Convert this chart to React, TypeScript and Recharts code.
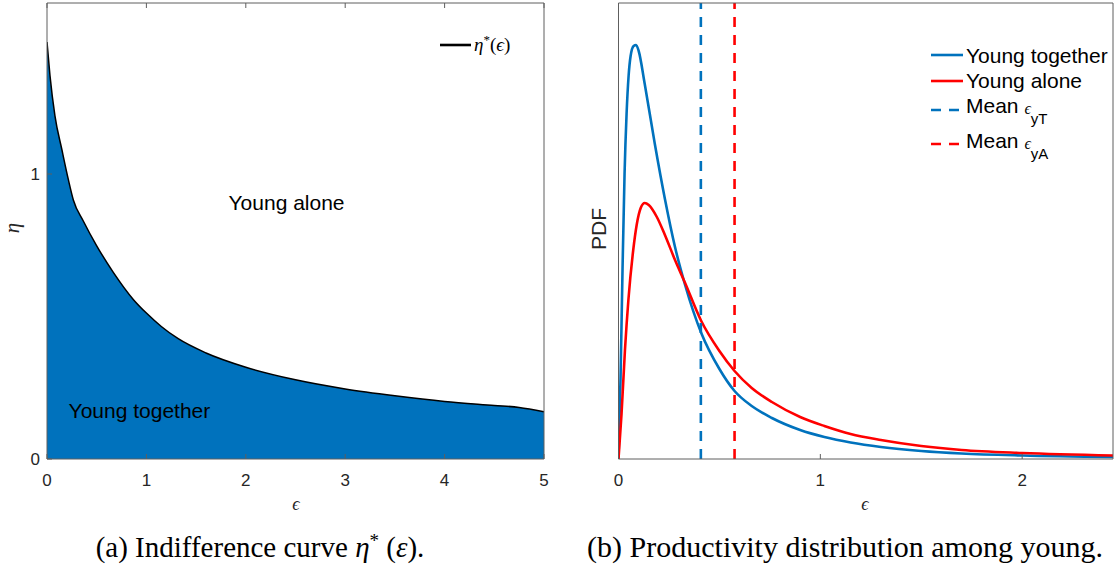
import React from 'react';
import {
  ComposedChart,
  Area,
  Line,
  XAxis,
  YAxis,
  ReferenceLine,
  ReferenceDot,
} from 'recharts';

// (a) indifference curve eta*(eps)
const curveEps = [0, 0.03, 0.08, 0.15, 0.215, 0.265, 0.365, 0.5, 0.667, 0.868, 1.0, 1.15, 1.32, 1.6, 2.0, 2.5, 3.0, 3.5, 4.0, 4.5, 4.75, 5.0];
const curveEta = [1.463, 1.345, 1.204, 1.085, 0.98, 0.909, 0.835, 0.748, 0.655, 0.56, 0.512, 0.465, 0.422, 0.372, 0.322, 0.278, 0.246, 0.222, 0.202, 0.188, 0.181, 0.166];
const epsTicksA = [0, 1, 2, 3, 4, 5];
const etaTicks = [0, 1];

// (b) productivity pdf among young
const blueEps = [0, 0.01, 0.02, 0.03, 0.04, 0.05, 0.06, 0.075, 0.087, 0.1, 0.13, 0.18, 0.23, 0.28, 0.33, 0.41, 0.5, 0.575, 0.66, 0.76, 0.9, 1.02, 1.15, 1.3, 1.5, 1.7, 2.0, 2.45];
const bluePdf = [0, 0.8, 1.9, 2.85, 3.45, 3.83, 4.03, 4.13, 4.14, 4.08, 3.75, 3.15, 2.6, 2.12, 1.74, 1.26, 0.9, 0.68, 0.53, 0.41, 0.29, 0.22, 0.165, 0.12, 0.08, 0.055, 0.035, 0.02];
const redEps = [0, 0.015, 0.032, 0.049, 0.073, 0.09, 0.11, 0.13, 0.15, 0.19, 0.23, 0.28, 0.33, 0.41, 0.5, 0.575, 0.66, 0.76, 0.9, 1.02, 1.15, 1.3, 1.5, 1.7, 2.0, 2.45];
const redPdf = [0, 0.45, 1.09, 1.59, 2.09, 2.34, 2.51, 2.56, 2.54, 2.42, 2.24, 1.99, 1.76, 1.38, 1.08, 0.88, 0.71, 0.57, 0.42, 0.33, 0.25, 0.19, 0.13, 0.09, 0.06, 0.035];
const meanYT = 0.408;
const meanYA = 0.575;
const epsTicksB = [0, 1, 2];

const indiffData = curveEps.map((e, i) => ({ eps: e, eta: curveEta[i] }));
const blueData = blueEps.map((e, i) => ({ eps: e, pdf: bluePdf[i] }));
const redData = redEps.map((e, i) => ({ eps: e, pdf: redPdf[i] }));

const BLUE = '#0072BD';
const RED = '#FF0000';
const INK = '#262626';
const AXIS = '#5e5e5e';
const SANS = '"Liberation Sans", Arial, Helvetica, sans-serif';
const SERIF = '"Liberation Serif", "Times New Roman", serif';

const BottomTick = (props: any) => {
  const { x, y, payload } = props;
  return (
    <g>
      <line x1={x} y1={y} x2={x} y2={y - 5} stroke={AXIS} />
      <text x={x} y={y + 27} textAnchor="middle" fill={INK} fontSize={17} fontFamily={SANS}>
        {payload.value}
      </text>
    </g>
  );
};

const TopTick = (props: any) => {
  const { x, y } = props;
  return <line x1={x} y1={y} x2={x} y2={y + 5} stroke={AXIS} />;
};

const LeftTick = (props: any) => {
  const { x, y, payload } = props;
  return (
    <g>
      <line x1={x} y1={y} x2={x + 5} y2={y} stroke={AXIS} />
      <text x={x - 7} y={y + 6} textAnchor="end" fill={INK} fontSize={17} fontFamily={SANS}>
        {payload.value}
      </text>
    </g>
  );
};

const RightTick = (props: any) => {
  const { x, y } = props;
  return <line x1={x} y1={y} x2={x - 5} y2={y} stroke={AXIS} />;
};

const regionLabel = (text: string) => (props: any) => {
  const { viewBox } = props;
  return (
    <text x={viewBox.x} y={viewBox.y + 7} textAnchor="middle" fill="#000" fontSize={21} fontFamily={SANS}>
      {text}
    </text>
  );
};

export default function App() {
  return (
    <div style={{ position: 'absolute', left: 0, top: 0, width: 1114, height: 567, background: '#fff' }}>
      <div style={{ position: 'absolute', left: 0, top: 0 }}>
        <ComposedChart width={560} height={500} data={indiffData} margin={{ top: 2, right: 15, bottom: 1, left: 7 }}>
          <XAxis dataKey="eps" type="number" domain={[0, 5]} ticks={epsTicksA} tickSize={0} tickMargin={0} tick={<BottomTick />} height={40} stroke={AXIS} allowDataOverflow />
          <XAxis xAxisId="top" orientation="top" dataKey="eps" type="number" domain={[0, 5]} ticks={epsTicksA} tickSize={0} tickMargin={0} tick={<TopTick />} height={1} stroke={AXIS} />
          <YAxis type="number" domain={[0, 1.6]} ticks={etaTicks} tickSize={0} tickMargin={0} tick={<LeftTick />} width={40} stroke={AXIS} allowDataOverflow />
          <YAxis yAxisId="right" orientation="right" type="number" domain={[0, 1.6]} ticks={etaTicks} tickSize={0} tickMargin={0} tick={<RightTick />} width={1} stroke={AXIS} />
          <Area type="monotone" dataKey="eta" stroke="#000" strokeWidth={1.5} fill={BLUE} fillOpacity={1} isAnimationActive={false} />
          <ReferenceDot x={2.41} y={0.9} r={0} fill="none" stroke="none" label={regionLabel('Young alone')} />
          <ReferenceDot x={0.93} y={0.17} r={0} fill="none" stroke="none" label={regionLabel('Young together')} />
        </ComposedChart>
      </div>

      <div style={{ position: 'absolute', left: 560, top: 0 }}>
        <ComposedChart width={554} height={500} margin={{ top: 2, right: 0, bottom: 1, left: 18.5 }}>
          <XAxis dataKey="eps" type="number" domain={[0, 2.45]} ticks={epsTicksB} tickSize={0} tickMargin={0} tick={<BottomTick />} height={40} stroke={AXIS} allowDataOverflow />
          <XAxis xAxisId="top" orientation="top" dataKey="eps" type="number" domain={[0, 2.45]} ticks={epsTicksB} tickSize={0} tickMargin={0} tick={<TopTick />} height={1} stroke={AXIS} />
          <YAxis type="number" domain={[0, 4.56]} tick={false} tickLine={false} width={40} stroke={AXIS} allowDataOverflow />
          <YAxis yAxisId="right" orientation="right" type="number" domain={[0, 4.56]} tick={false} tickLine={false} width={1} stroke={AXIS} />
          <Line data={blueData} dataKey="pdf" type="monotone" stroke={BLUE} strokeWidth={2.6} dot={false} isAnimationActive={false} />
          <Line data={redData} dataKey="pdf" type="monotone" stroke={RED} strokeWidth={2.6} dot={false} isAnimationActive={false} />
          <ReferenceLine x={meanYT} stroke={BLUE} strokeWidth={2.6} strokeDasharray="10 8" />
          <ReferenceLine x={meanYA} stroke={RED} strokeWidth={2.6} strokeDasharray="10 8" />
        </ComposedChart>
      </div>

      <svg width={1114} height={567} style={{ position: 'absolute', left: 0, top: 0, pointerEvents: 'none' }}>
        {/* axis labels */}
        <text x={19} y={228} transform="rotate(-90 19 228)" textAnchor="middle" fontSize={21} fontStyle="italic" fontFamily={SERIF} fill={INK}>η</text>
        <text x={296} y={510} textAnchor="middle" fontSize={18} fontStyle="italic" fontFamily={SERIF} fill={INK}>ϵ</text>
        <text x={606} y={229} transform="rotate(-90 606 229)" textAnchor="middle" fontSize={21} fontFamily={SANS} fill={INK}>PDF</text>
        <text x={865} y={510} textAnchor="middle" fontSize={18} fontStyle="italic" fontFamily={SERIF} fill={INK}>ϵ</text>

        {/* legend (a) */}
        <line x1={440} y1={45} x2={471} y2={45} stroke="#000" strokeWidth={2.6} />
        <text x={474} y={51} fontSize={19} fontFamily={SERIF} fill="#000">
          <tspan fontStyle="italic">η</tspan>
          <tspan dy={-7} fontSize={13}>*</tspan>
          <tspan dy={7}>(</tspan>
          <tspan fontStyle="italic">ϵ</tspan>
          <tspan>)</tspan>
        </text>

        {/* legend (b) */}
        <line x1={931} y1={55} x2={963} y2={55} stroke={BLUE} strokeWidth={2.6} />
        <text x={966} y={63} fontSize={21} fontFamily={SANS} fill="#000">Young together</text>
        <line x1={931} y1={81} x2={963} y2={81} stroke={RED} strokeWidth={2.6} />
        <text x={966} y={88} fontSize={21} fontFamily={SANS} fill="#000">Young alone</text>
        <line x1={931} y1={110} x2={963} y2={110} stroke={BLUE} strokeWidth={2.6} strokeDasharray="10 8" />
        <text x={966} y={113} fontSize={21} fontFamily={SANS} fill="#000">
          Mean <tspan fontFamily={SERIF} fontStyle="italic" fontSize={16} dy={1}>ϵ</tspan>
          <tspan fontSize={15} dy={10}>yT</tspan>
        </text>
        <line x1={931} y1={144} x2={963} y2={144} stroke={RED} strokeWidth={2.6} strokeDasharray="10 8" />
        <text x={966} y={148} fontSize={21} fontFamily={SANS} fill="#000">
          Mean <tspan fontFamily={SERIF} fontStyle="italic" fontSize={16} dy={1}>ϵ</tspan>
          <tspan fontSize={15} dy={10}>yA</tspan>
        </text>

        {/* captions */}
        <text x={260} y={557} textAnchor="middle" fontSize={29} fontFamily={SERIF} fill="#000">
          (a) Indifference curve <tspan fontStyle="italic">η</tspan>
          <tspan dy={-10} fontSize={19}>*</tspan>
          <tspan dy={10}> (</tspan>
          <tspan fontStyle="italic">ε</tspan>
          <tspan>).</tspan>
        </text>
        <text x={845} y={557} textAnchor="middle" fontSize={30} fontFamily={SERIF} fill="#000">
          (b) Productivity distribution among young.
        </text>
      </svg>
    </div>
  );
}
